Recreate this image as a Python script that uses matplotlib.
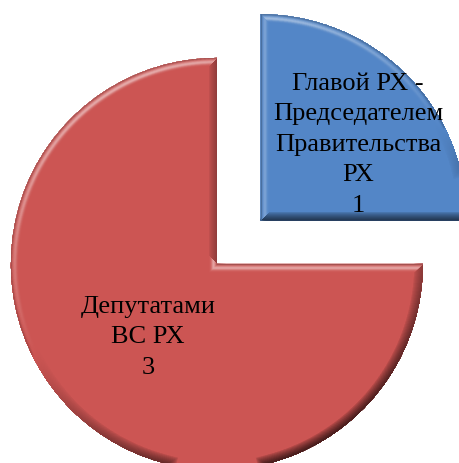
import numpy as np
import matplotlib
matplotlib.use("Agg")
import matplotlib.pyplot as plt
from matplotlib.collections import LineCollection
from matplotlib.colors import to_rgb

# Who initiated the bills
labels = ["Главой РХ -\nПредседателем\nПравительства\nРХ", "Депутатами\nВС РХ"]
values = [1, 3]
colors = ["#5386C7", "#CC5553"]
explode = [0.30, 0.0]
# label anchor (x, y) relative to each wedge's centre, in radius units
label_offsets = [(0.472, 0.371), (-0.335, -0.350)]

plt.rcParams["font.family"] = ["Liberation Serif", "DejaVu Serif"]

fig = plt.figure(figsize=(4.60, 4.64), dpi=100)
ax = fig.add_axes([0, 0, 1, 1])
ax.set_axis_off()

wedges, _ = ax.pie(values, colors=colors, explode=explode, startangle=90,
                   counterclock=False, radius=1.0,
                   wedgeprops=dict(linewidth=0))

ax.set_xlim(-1.053, 1.180)
ax.set_ylim(-0.966, 1.286)
ax.set_aspect("equal")

# bevelled edges, lit from the upper left
light = np.array([-0.45, 0.89])
light /= np.linalg.norm(light)
bevel_px = 9.0
px_to_pt = 72.0 / fig.dpi


def wedge_outline(w, n_arc=240):
    cx, cy = w.center
    t = np.radians(np.linspace(w.theta1, w.theta2, n_arc))
    arc = np.column_stack([cx + w.r * np.cos(t), cy + w.r * np.sin(t)])
    return np.vstack([[cx, cy], arc, [cx, cy]])


def edge_shading(pts):
    d = np.diff(pts, axis=0)
    nrm = np.column_stack([d[:, 1], -d[:, 0]])
    nrm /= np.linalg.norm(nrm, axis=1, keepdims=True)
    return nrm @ light


def bevel_color(base, s, depth):
    t = depth / bevel_px
    lit = 0.2 * (1 - t) + 0.9 * np.exp(-((depth - 4.0) / 2.0) ** 2)
    rim = 0.25 * np.exp(-(depth / 1.2) ** 2)
    shade = (1 - t) ** 0.7
    out = np.empty((len(s), 3))
    pos = s >= 0
    out[pos] = base + (1 - base) * (0.5 * s[pos] * lit)[:, None]
    out[pos] *= (1 - rim)
    out[~pos] = base * (1 + 0.68 * s[~pos] * shade)[:, None]
    return np.clip(out, 0, 1)


for w, c in zip(wedges, colors):
    pts = wedge_outline(w)
    segs = np.stack([pts[:-1], pts[1:]], axis=1)
    s = edge_shading(pts)
    base = np.array(to_rgb(c))
    steps = 18
    for k in range(steps):
        depth = bevel_px * (1 - k / steps)
        lc = LineCollection(segs, colors=bevel_color(base, s, depth),
                            linewidths=2 * depth * px_to_pt,
                            capstyle="projecting", joinstyle="miter")
        lc.set_clip_path(w)
        ax.add_collection(lc)

for w, text, v, (dx, dy) in zip(wedges, labels, values, label_offsets):
    cx, cy = w.center
    ax.text(cx + dx * w.r, cy + dy * w.r, f"{text}\n{v}", ha="center",
            va="center", fontsize=19, color="black",
            linespacing=1.5, multialignment="center")

fig.savefig("out.png", dpi=100)
